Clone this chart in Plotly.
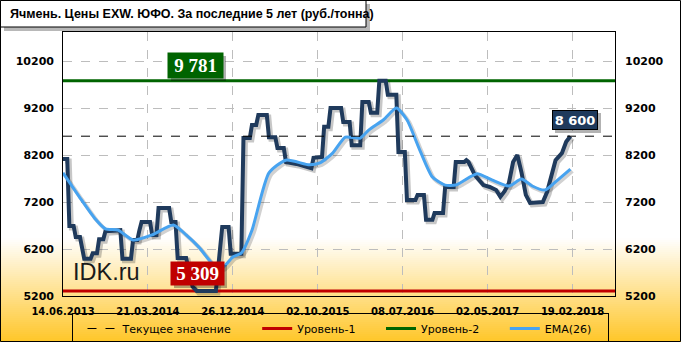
import plotly.graph_objects as go

# ---------------- data ----------------
x_labels = ["14.06.2013", "21.03.2014", "26.12.2014", "02.10.2015",
            "08.07.2016", "02.05.2017", "19.02.2018"]
label_weeks = [0, 40, 80, 120, 160, 200, 240]

price_weeks = [0, 2, 3, 5, 6, 8, 10, 13, 14, 16, 17, 19, 20, 27, 28, 32, 33, 35,
               36, 37, 41, 42, 44, 45, 50, 51, 53, 54, 58, 61, 63, 72, 75, 78,
               79, 84, 85, 88, 89, 91, 92, 96, 97, 100, 101, 104, 105, 110, 117,
               118, 122, 123, 125, 126, 131, 132, 135, 136, 140, 141, 144, 145,
               148, 149, 152, 153, 157, 158, 161, 162, 166, 167, 170, 171, 174,
               175, 179, 180, 184, 185, 189, 190, 191, 194, 198, 201, 204, 206,
               208, 210, 212, 214, 216, 218, 220, 223, 226, 228, 230, 232, 235,
               237, 239]
price_values = [8115, 8115, 6690, 6690, 6455, 6455, 5990, 5990, 6110, 6110, 6410,
                6410, 6580, 6600, 5990, 5990, 6390, 6390, 6600, 6775, 6775, 6500,
                6500, 7070, 7070, 6775, 6775, 6010, 6010, 5400, 5309, 5309, 6670,
                6670, 6100, 6100, 8560, 8560, 8840, 8840, 9050, 9050, 8580, 8580,
                8350, 8350, 8050, 8010, 7920, 8140, 8160, 8800, 8800, 9200, 9200,
                8900, 8900, 8410, 8410, 9330, 9330, 9100, 9100, 9781, 9781, 9480,
                9480, 8265, 8265, 7240, 7240, 7350, 7350, 6820, 6820, 6965, 6965,
                7520, 7520, 8050, 8050, 8090, 8050, 7770, 7560, 7520, 7455, 7310,
                7430, 7600, 8050, 8200, 7820, 7350, 7180, 7200, 7200, 7410, 7730,
                8090, 8240, 8480, 8600]

ema_weeks = [0, 8, 15, 20, 26, 33, 42, 52, 58, 64, 71, 75, 80, 84, 89, 97, 105,
             116, 121, 127, 133, 140, 144, 151, 157, 162, 168, 174, 180, 185,
             188, 195, 202, 210, 216, 221, 227, 232, 239]
ema_values = [7820, 7290, 6850, 6630, 6600, 6390, 6500, 6710, 6500, 6240, 5860,
              5800, 6030, 6115, 6600, 7820, 8090, 7990, 8030, 8240, 8580, 8560,
              8730, 8950, 9200, 8950, 8310, 7730, 7560, 7560, 7630, 7800, 7670,
              7540, 7690, 7540, 7455, 7630, 7900]

level_1 = min(price_values)      # Уровень-1
level_2 = max(price_values)      # Уровень-2
current = price_values[-1]       # Текущее значение

y_ticks = [5200, 6200, 7200, 8200, 9200, 10200]
y_tick_labels = [str(v) for v in y_ticks]
X_RANGE = [0, 260]
Y_RANGE = [5200, 10817]

title_text = "Ячмень. Цены EXW. ЮФО. За последние 5 лет (руб./тонна)"
legend_names = ["Текущее значение", "Уровень-1", "Уровень-2", "EMA(26)"]

# ---------------- geometry helpers ----------------
W, H = 681, 342
L, R, T, B = 63, 66, 32, 46
PW, PH = W - L - R, H - T - B


def px(xp):
    return (xp - L) / PW


def py(yp):
    return (H - B - yp) / PH


def fmt(v):
    return f"{v:,}".replace(",", " ")


PAD = "\u00a0" * 3  # extra spacing between legend entries

# shadow offset (2 px right / down) expressed through axis ranges
sx = 2 * (X_RANGE[1] - X_RANGE[0]) / PW
sy = 2 * (Y_RANGE[1] - Y_RANGE[0]) / PH

PRICE_C = "#1F3A5C"
EMA_C = "#47A3F0"
RED = "#C00000"
GREEN = "#006400"

fig = go.Figure()

# shadows (main subplot, shifted ranges)
fig.add_trace(go.Scatter(x=price_weeks, y=price_values, mode="lines",
                         line=dict(color="rgba(0,0,0,0.22)", width=5),
                         showlegend=False, hoverinfo="skip", xaxis="x", yaxis="y"))
fig.add_trace(go.Scatter(x=ema_weeks, y=ema_values, mode="lines",
                         line=dict(color="rgba(0,0,0,0.18)", width=4, shape="spline", smoothing=0.6),
                         showlegend=False, hoverinfo="skip", xaxis="x", yaxis="y"))

# levels
fig.add_trace(go.Scatter(x=X_RANGE, y=[level_1, level_1], mode="lines", name=legend_names[1] + PAD,
                         line=dict(color=RED, width=3), xaxis="x2", yaxis="y2", legendrank=2))
fig.add_trace(go.Scatter(x=X_RANGE, y=[level_2, level_2], mode="lines", name=legend_names[2] + PAD,
                         line=dict(color=GREEN, width=3), xaxis="x2", yaxis="y2", legendrank=3))
# price
fig.add_trace(go.Scatter(x=price_weeks, y=price_values, mode="lines", name="Цена",
                         line=dict(color=PRICE_C, width=4), showlegend=False,
                         xaxis="x2", yaxis="y2"))
# EMA
fig.add_trace(go.Scatter(x=ema_weeks, y=ema_values, mode="lines", name=legend_names[3] + PAD,
                         line=dict(color=EMA_C, width=3, shape="spline", smoothing=0.6),
                         xaxis="x2", yaxis="y2", legendrank=4))
# current value
fig.add_trace(go.Scatter(x=X_RANGE, y=[current, current], mode="lines", name=legend_names[0] + PAD,
                         line=dict(color="black", width=1, dash="dash"),
                         xaxis="x2", yaxis="y3", legendrank=1))

# ---------------- background gradient ----------------
shapes = []
g_top, g_bot, n = 238, 342, 52
c0, c1 = (255, 255, 255), (255, 198, 40)
for i in range(n):
    y0p = g_top + (g_bot - g_top) * i / n
    y1p = g_top + (g_bot - g_top) * (i + 1) / n + 0.6
    t = (i + 0.5) / n
    c = tuple(round(c0[k] + (c1[k] - c0[k]) * t) for k in range(3))
    shapes.append(dict(type="rect", xref="paper", yref="paper", layer="below",
                       x0=px(0), x1=px(W), y0=py(y1p), y1=py(y0p),
                       fillcolor=f"rgb{c}", line=dict(width=0)))

# canvas border
shapes.append(dict(type="rect", xref="paper", yref="paper", layer="above",
                   x0=px(0.5), x1=px(W - 0.5), y0=py(H - 0.5), y1=py(0.5),
                   line=dict(color="black", width=1)))
# title box + shadow
shapes.append(dict(type="rect", xref="paper", yref="paper", layer="above",
                   x0=px(4), x1=px(370), y0=py(31), y1=py(4),
                   fillcolor="rgba(0,0,0,0.28)", line=dict(width=0)))
shapes.append(dict(type="rect", xref="paper", yref="paper", layer="above",
                   x0=px(0.5), x1=px(366), y0=py(27), y1=py(0.5),
                   fillcolor="white", line=dict(color="black", width=1)))


def box_shadow(x0, y0, x1, y1):
    shapes.append(dict(type="rect", xref="paper", yref="paper", layer="above",
                       x0=px(x0 + 3), x1=px(x1 + 3), y0=py(y1 + 3), y1=py(y0 + 3),
                       fillcolor="rgba(0,0,0,0.3)", line=dict(width=0)))


box_shadow(168, 53, 223, 78)
box_shadow(171, 262, 224, 285)
box_shadow(552, 110, 598, 130)

annotations = [
    dict(text=title_text, xref="paper", yref="paper", x=px(8), y=py(14),
         xanchor="left", yanchor="middle", showarrow=False,
         font=dict(family="Liberation Sans", size=12.5, color="black", weight="bold")),
    dict(text="IDK.ru", xref="paper", yref="paper", x=px(106.5), y=py(272),
         xanchor="center", yanchor="middle", showarrow=False,
         font=dict(family="Liberation Sans", size=23.5, color="#1a1a1a")),
    dict(text=fmt(level_2), xref="paper", yref="paper", x=px(195.5), y=py(65.5),
         xanchor="center", yanchor="middle", showarrow=False, width=55, height=25,
         bgcolor=GREEN, borderpad=0,
         font=dict(family="Liberation Serif", size=19, color="white", weight="bold")),
    dict(text=fmt(level_1), xref="paper", yref="paper", x=px(197.5), y=py(273.5),
         xanchor="center", yanchor="middle", showarrow=False, width=53, height=23,
         bgcolor=RED, borderpad=0,
         font=dict(family="Liberation Serif", size=19, color="white", weight="bold")),
    dict(text=fmt(current), xref="paper", yref="paper", x=px(575), y=py(120),
         xanchor="center", yanchor="middle", showarrow=False, width=44, height=18,
         bgcolor=PRICE_C, bordercolor="black", borderwidth=1, borderpad=0,
         font=dict(family="DejaVu Sans", size=13, color="white", weight="bold")),
]

grid = dict(showgrid=True, gridcolor="#BDBDBD", griddash="dash", gridwidth=1)
tickfont_y = dict(family="DejaVu Sans", size=11, color="black", weight="bold")
tickfont_x = dict(family="DejaVu Sans", size=10, color="black", weight="bold")

fig.update_layout(
    width=W, height=H,
    margin=dict(l=L, r=R, t=T, b=B, pad=0, autoexpand=False),
    paper_bgcolor="white", plot_bgcolor="rgba(0,0,0,0)",
    showlegend=True,
    legend=dict(orientation="h", x=px(340), xanchor="center", y=py(313), yanchor="top",
                bgcolor="rgba(0,0,0,0)", bordercolor="black", borderwidth=1,
                font=dict(family="DejaVu Sans", size=11, color="black"),
                traceorder="normal", indentation=10),
    xaxis=dict(range=[X_RANGE[0] - sx, X_RANGE[1] - sx], showticklabels=False,
               showgrid=False, zeroline=False, showline=True, mirror=True,
               linecolor="black", linewidth=1, fixedrange=True),
    yaxis=dict(range=[Y_RANGE[0] + sy, Y_RANGE[1] + sy], showticklabels=False,
               showgrid=False, zeroline=False, showline=True, mirror=True,
               linecolor="black", linewidth=1, fixedrange=True),
    xaxis2=dict(overlaying="x", anchor="y2", side="bottom", range=X_RANGE,
                tickmode="array", tickvals=label_weeks, ticktext=x_labels,
                tickfont=tickfont_x, ticks="", ticklabelstandoff=8,
                zeroline=False, showline=False, **grid),
    yaxis2=dict(overlaying="y", anchor="x2", side="left", range=Y_RANGE,
                tickmode="array", tickvals=y_ticks, ticktext=y_tick_labels,
                tickfont=tickfont_y,
                ticks="", ticklabelstandoff=8, zeroline=False, showline=False, **grid),
    yaxis3=dict(overlaying="y", anchor="x2", side="right", range=Y_RANGE,
                tickmode="array", tickvals=y_ticks, ticktext=y_tick_labels,
                tickfont=tickfont_y,
                ticks="", ticklabelstandoff=9, zeroline=False, showline=False,
                showgrid=False),
    shapes=shapes,
    annotations=annotations,
)

fig.write_html("out.html")
